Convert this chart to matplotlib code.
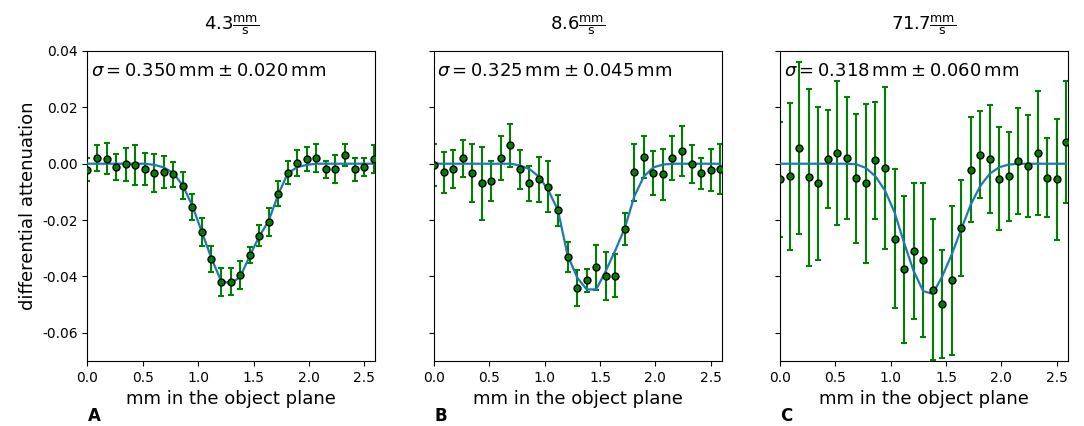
import matplotlib

matplotlib.use("Agg")

import matplotlib.pyplot as plt

# sample positions along the object plane (mm)
x_mm = [0.000, 0.086, 0.172, 0.259, 0.345, 0.431, 0.517, 0.603, 0.689, 0.776,
        0.862, 0.948, 1.034, 1.120, 1.206, 1.293, 1.379, 1.465, 1.551, 1.637,
        1.723, 1.810, 1.896, 1.982, 2.068, 2.154, 2.240, 2.327, 2.413, 2.499,
        2.585]

speeds = ["4.3", "8.6", "71.7"]
sigma_txt = [("0.350", "0.020"), ("0.325", "0.045"), ("0.318", "0.060")]
panel_letters = ["A", "B", "C"]

# panel A (4.3 mm/s)
y_a = [-0.0021, 0.0020, 0.0018, -0.0012, -0.0002, -0.0005, -0.0020, -0.0033,
       -0.0030, -0.0037, -0.0078, -0.0153, -0.0243, -0.0338, -0.0420, -0.0419,
       -0.0395, -0.0324, -0.0255, -0.0208, -0.0106, -0.0032, 0.0002, 0.0017,
       0.0021, -0.0020, -0.0018, 0.0032, -0.0020, -0.0011, 0.0018]
err_a = [0.0042, 0.0045, 0.0054, 0.0047, 0.0058, 0.0070, 0.0057, 0.0067,
         0.0057, 0.0044, 0.0048, 0.0045, 0.0049, 0.0045, 0.0051, 0.0048,
         0.0049, 0.0028, 0.0036, 0.0050, 0.0045, 0.0040, 0.0047, 0.0043,
         0.0050, 0.0030, 0.0049, 0.0039, 0.0042, 0.0031, 0.0050]
fit_a = [0.0, 0.0, 0.0, 0.0, 0.0, 0.0, 0.0, -0.0004, -0.0013, -0.0033,
         -0.0078, -0.0150, -0.0243, -0.0336, -0.0415, -0.0425, -0.0402, -0.0328,
         -0.0258, -0.0203, -0.0109, -0.0034, -0.0012, -0.0004, 0.0, 0.0, 0.0,
         0.0, 0.0, 0.0, 0.0]

# panel B (8.6 mm/s)
y_b = [-0.0004, -0.0031, -0.0018, 0.0019, -0.0033, -0.0070, -0.0062, 0.0019,
       0.0065, -0.0019, -0.0070, -0.0055, -0.0081, -0.0165, -0.0330, -0.0441,
       -0.0413, -0.0368, -0.0398, -0.0398, -0.0232, -0.0030, 0.0024, -0.0033,
       -0.0037, 0.0021, 0.0044, -0.0001, -0.0033, -0.0021, -0.0018]
err_b = [0.0074, 0.0074, 0.0067, 0.0065, 0.0104, 0.0129, 0.0071, 0.0078,
         0.0075, 0.0069, 0.0063, 0.0080, 0.0091, 0.0055, 0.0053, 0.0064,
         0.0041, 0.0081, 0.0084, 0.0076, 0.0057, 0.0101, 0.0073, 0.0077,
         0.0091, 0.0077, 0.0089, 0.0066, 0.0055, 0.0075, 0.0089]
fit_b = [0.0, 0.0, 0.0, 0.0, 0.0, 0.0, 0.0, 0.0, 0.0, -0.0006,
         -0.0019, -0.0046, -0.0095, -0.0166, -0.0324, -0.0404, -0.0446, -0.0446,
         -0.0381, -0.0308, -0.0229, -0.0115, -0.0045, -0.0013, -0.0003, 0.0,
         0.0, 0.0, 0.0, 0.0, 0.0]

# panel C (71.7 mm/s)
y_c = [-0.0055, -0.0045, 0.0055, -0.0048, -0.0070, 0.0017, 0.0038, 0.0021,
       -0.0052, -0.0070, 0.0012, -0.0015, -0.0266, -0.0375, -0.0309, -0.0342,
       -0.0447, -0.0498, -0.0414, -0.0229, -0.0021, 0.0032, 0.0017, -0.0053,
       -0.0045, 0.0010, -0.0007, 0.0038, -0.0050, -0.0055, 0.0076]
err_c = [0.0204, 0.0261, 0.0306, 0.0314, 0.0271, 0.0175, 0.0255, 0.0217,
         0.0228, 0.0282, 0.0207, 0.0289, 0.0246, 0.0262, 0.0242, 0.0273,
         0.0251, 0.0192, 0.0263, 0.0170, 0.0186, 0.0154, 0.0191, 0.0182,
         0.0157, 0.0187, 0.0181, 0.0219, 0.0140, 0.0214, 0.0216]
fit_c = [0.0, 0.0, 0.0, 0.0, 0.0, 0.0, 0.0, 0.0, -0.0002, -0.0015,
         -0.0045, -0.0095, -0.0172, -0.0280, -0.0380, -0.0452, -0.0462, -0.0400,
         -0.0322, -0.0232, -0.0145, -0.0078, -0.0035, -0.0012, -0.0003, 0.0,
         0.0, 0.0, 0.0, 0.0, 0.0]

DATA = [(y_a, err_a, fit_a), (y_b, err_b, fit_b), (y_c, err_c, fit_c)]


def main() -> None:
    fig = plt.figure(figsize=(10.84, 4.26), dpi=100)
    lefts = [0.0807, 0.4004, 0.7196]
    width, bottom, height = 0.2655, 0.1526, 0.7277

    axes = []
    for i, (y, err, fit) in enumerate(DATA):
        ax = fig.add_axes([lefts[i], bottom, width, height],
                          sharey=axes[0] if axes else None)
        axes.append(ax)
        ax.errorbar(x_mm, y, yerr=err, fmt="none", ecolor="green",
                    elinewidth=1.5, capsize=2.5, capthick=1.5, zorder=2)
        ax.plot(x_mm, fit, color="#1f77b4", lw=1.6, zorder=3)
        ax.plot(x_mm, y, "o", ms=5, mfc="green", mec="black", mew=1.0, zorder=4)

        ax.set_xlim(0, 2.6)
        ax.set_ylim(-0.07, 0.04)
        ax.set_yticks([-0.06, -0.04, -0.02, 0.0, 0.02, 0.04])
        ax.set_xticks([0.0, 0.5, 1.0, 1.5, 2.0, 2.5])
        ax.tick_params(labelsize=10)
        ax.set_xlabel("mm in the object plane", fontsize=13)
        ax.set_title(r"$%s\frac{\mathrm{mm}}{\mathrm{s}}$" % speeds[i],
                     fontsize=13, pad=15)
        s, ds = sigma_txt[i]
        ax.text(0.012, 0.935,
                r"$\sigma = %s\,\mathrm{mm} \pm %s\,\mathrm{mm}$" % (s, ds),
                transform=ax.transAxes, ha="left", va="center", fontsize=13)
        ax.text(0.0, -0.178, panel_letters[i], transform=ax.transAxes,
                ha="left", va="center", fontsize=12, fontweight="bold")
        if i > 0:
            plt.setp(ax.get_yticklabels(), visible=False)

    axes[0].set_ylabel("differential attenuation", fontsize=13)
    axes[0].set_yticklabels(["-0.06", "-0.04", "-0.02", "0.00", "0.02", "0.04"])

    fig.savefig("out.png", dpi=100)
    plt.close(fig)


if __name__ == "__main__":
    main()
